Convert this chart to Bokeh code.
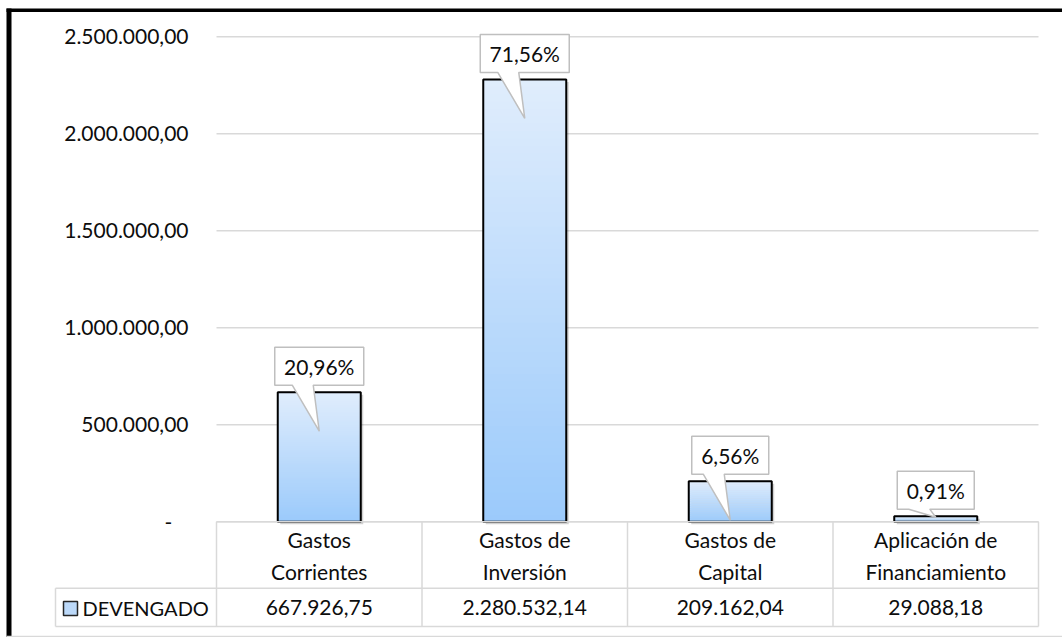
import numpy as np
from bokeh.plotting import figure
from bokeh.models import Range1d
from bokeh.core.properties import value
from bokeh.embed import file_html
from bokeh.resources import INLINE

# ---------------- data ----------------
categories = ["Gastos\nCorrientes", "Gastos de\nInversión", "Gastos de\nCapital", "Aplicación de\nFinanciamiento"]
values = [667926.75, 2280532.14, 209162.04, 29088.18]
value_labels = ["667.926,75", "2.280.532,14", "209.162,04", "29.088,18"]
pct_labels = ["20,96%", "71,56%", "6,56%", "0,91%"]
series_name = "DEVENGADO"
y_ticks = [0, 500000, 1000000, 1500000, 2000000, 2500000]
y_tick_labels = ["-\u00a0\u00a0\u00a0", "500.000,00", "1.000.000,00", "1.500.000,00", "2.000.000,00", "2.500.000,00"]

# ---------------- layout helpers (pixel -> data) ----------------
W, H = 1062, 637
PX_LEFT, CAT_W = 216.0, 205.5          # plot area left edge, width of one category
Y0_PX, K = 521.3, 500000.0 / 97.0      # zero line pixel, value units per pixel

def X(px):
    return (px - PX_LEFT) / CAT_W

def Y(py):
    return (Y0_PX - py) * K

FONT = value("Lato")
FS = "21px"
GRID = "#d9d9d9"
TXT = "#0d0d0d"

p = figure(width=W, height=H, output_backend="svg", toolbar_location=None,
           x_range=Range1d(X(0), X(W)), y_range=Range1d(Y(H), Y(0)),
           x_axis_type=None, y_axis_type=None, min_border=0,
           background_fill_color="white", border_fill_color="white")
p.outline_line_color = None
p.xgrid.visible = False
p.ygrid.visible = False

n = len(categories)
centers = [i + 0.5 for i in range(n)]

# gridlines
p.segment(x0=[0] * len(y_ticks), x1=[n] * len(y_ticks), y0=y_ticks, y1=y_ticks,
          line_color=GRID, line_width=1.5)

# y tick labels
p.text(x=[X(188)] * len(y_ticks), y=y_ticks, text=y_tick_labels,
       text_align="right", text_baseline="middle", text_font=FONT,
       text_font_size=FS, text_color=TXT)

# bars: shadow, gradient slices, outline
bw = 83.0 / CAT_W
p.vbar(x=[c + 2.5 / CAT_W for c in centers], top=[v - 2.5 * K for v in values],
       bottom=-2.5 * K, width=bw, fill_color="#000000", fill_alpha=0.18, line_color=None)

N = 60
bottom_rgb = np.array([155, 202, 251])
top_rgb = np.array([224, 237, 252])
lefts, rights, bots, tops, cols = [], [], [], [], []
for c, v in zip(centers, values):
    for j in range(N):
        t = (j + 0.5) / N
        rgb = (bottom_rgb + (top_rgb - bottom_rgb) * t).round().astype(int)
        lefts.append(c - bw / 2)
        rights.append(c + bw / 2)
        bots.append(v * j / N)
        tops.append(min(v, v * (j + 1.6) / N))
        cols.append("#%02x%02x%02x" % tuple(rgb))
p.quad(left=lefts, right=rights, bottom=bots, top=tops, fill_color=cols, line_color=None)
p.vbar(x=centers, top=values, width=bw, fill_color=None, line_color="#000000", line_width=2)

# ---------------- data table ----------------
row1_py, row2_py = 587.7, 626.0
# horizontal lines
p.segment(x0=[0, X(55), X(55)], x1=[n, n, n], y0=[0, Y(row1_py), Y(row2_py)],
          y1=[0, Y(row1_py), Y(row2_py)], line_color=GRID, line_width=1.5)
# vertical lines
p.segment(x0=list(range(n + 1)), x1=list(range(n + 1)), y0=[0] * (n + 1),
          y1=[Y(row2_py)] * (n + 1), line_color=GRID, line_width=1.5)
p.segment(x0=[X(55)], x1=[X(55)], y0=[Y(row1_py)], y1=[Y(row2_py)],
          line_color=GRID, line_width=1.5)

p.text(x=centers, y=[Y(555)] * n, text=categories, text_align="center",
       text_baseline="middle", text_font=FONT, text_font_size=FS,
       text_line_height=1.3, text_color=TXT)
p.text(x=centers, y=[Y(607)] * n, text=value_labels, text_align="center",
       text_baseline="middle", text_font=FONT, text_font_size=FS, text_color=TXT)

# legend key + series name
p.rect(x=[X(70)], y=[Y(608)], width=14, height=14, width_units="screen",
       height_units="screen", fill_color="#bcd9f9", line_color="#262626", line_width=1.5)
p.text(x=[X(82)], y=[Y(607)], text=[series_name], text_align="left",
       text_baseline="middle", text_font=FONT, text_font_size="20px", text_color=TXT)

# ---------------- callouts ----------------
xs, ys = [], []
for c, v, lab in zip(centers, values, pct_labels):
    w = 12 * len(lab) + 17
    hw = w / 2.0 / CAT_W
    bottom = v + 7 * K
    top = v + 45 * K
    apex = v - 39 * K if v - 39 * K > 0 else v * 0.8
    xs.append([c - hw, c + hw, c + hw, c - 6 / CAT_W, c, c - 27 / CAT_W, c - hw])
    ys.append([top, top, bottom, bottom, apex, bottom, bottom])
p.patches(xs=xs, ys=ys, fill_color="white", line_color="#bfbfbf", line_width=1.5)
p.text(x=centers, y=[v + 26 * K for v in values], text=pct_labels, text_align="center",
       text_baseline="middle", text_font=FONT, text_font_size=FS, text_color=TXT)

# ---------------- outer frame ----------------
p.quad(left=[X(6), X(6)], right=[X(W), X(11)], top=[Y(8), Y(8)], bottom=[Y(11.5), Y(H)],
       fill_color="#000000", line_color=None)
p.segment(x0=[X(6)], x1=[X(W)], y0=[Y(636)], y1=[Y(636)], line_color=GRID, line_width=1.5)

open("out.html", "w").write(file_html(p, INLINE))
